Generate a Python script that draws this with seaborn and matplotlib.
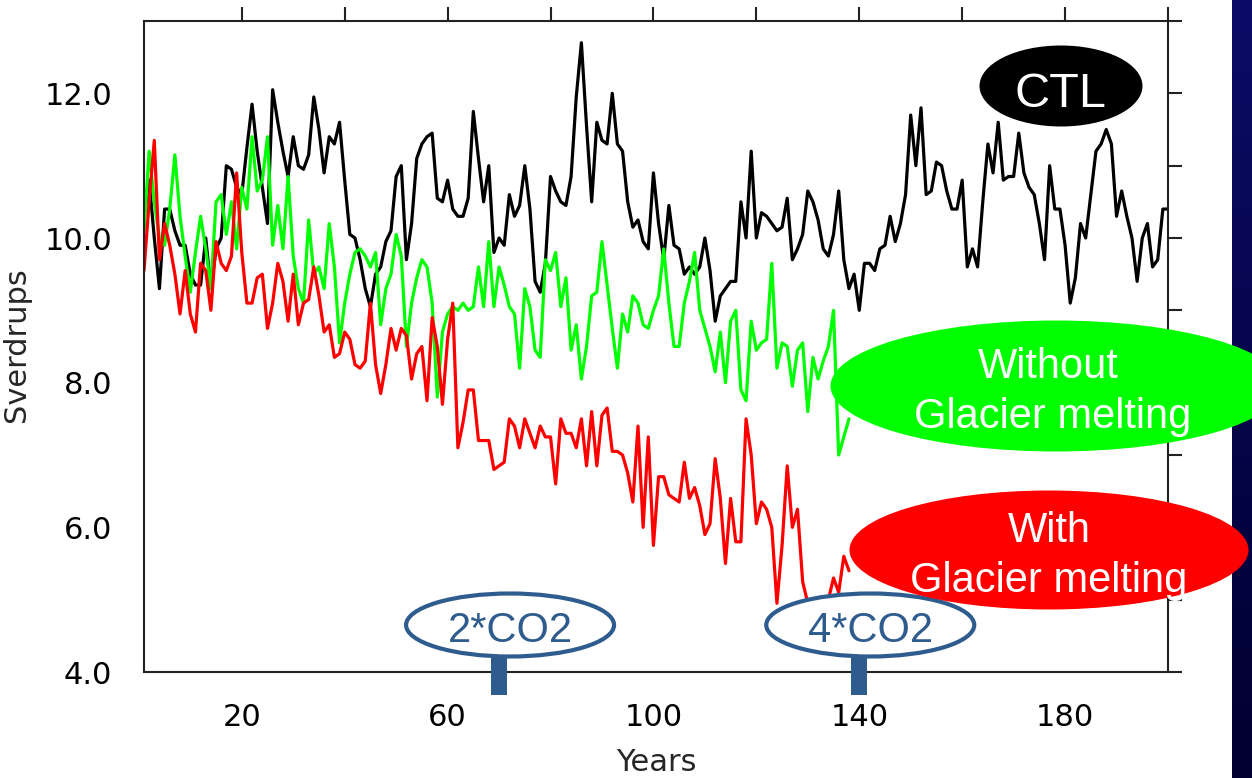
import numpy as np
import pandas as pd
import matplotlib
matplotlib.use("Agg")
import matplotlib.pyplot as plt
import seaborn as sns
from matplotlib.patches import Ellipse, Rectangle
from matplotlib.transforms import blended_transform_factory
from matplotlib.colors import LinearSegmentedColormap

# ---------------- data ----------------
years_ctl = list(range(1, 201))
ctl = [
    10.3, 10.8, 10.0, 9.3, 10.4, 10.4, 10.1, 9.9, 9.9, 9.5,
    9.35, 9.35, 10.0, 9.3, 9.85, 10.0, 11.0, 10.95, 10.7, 10.6,
    11.25, 11.85, 11.2, 10.7, 10.2, 12.05, 11.6, 11.2, 10.85, 11.4,
    11.0, 10.95, 11.15, 11.95, 11.5, 10.9, 11.4, 11.3, 11.6, 10.8,
    10.05, 10.0, 9.7, 9.3, 9.05, 9.5, 9.6, 9.95, 10.1, 10.85,
    11.0, 9.7, 10.2, 11.1, 11.3, 11.4, 11.45, 10.55, 10.5, 10.8,
    10.4, 10.3, 10.3, 10.55, 11.75, 11.1, 10.5, 11.0, 9.8, 10.0,
    9.9, 10.6, 10.3, 10.45, 11.0, 10.4, 9.4, 9.25, 9.65, 10.85,
    10.65, 10.5, 10.45, 10.85, 11.95, 12.7, 11.55, 10.5, 11.6, 11.35,
    11.3, 12.0, 11.3, 11.2, 10.5, 10.15, 10.25, 9.95, 9.85, 10.9,
    10.2, 9.7, 10.45, 9.9, 9.85, 9.5, 9.6, 9.5, 9.6, 10.0,
    9.55, 8.85, 9.2, 9.3, 9.4, 9.4, 10.5, 10.0, 11.2, 10.0,
    10.35, 10.3, 10.2, 10.1, 10.15, 10.55, 9.7, 9.85, 10.05, 10.65,
    10.5, 10.25, 9.85, 9.75, 10.05, 10.65, 9.7, 9.3, 9.5, 9.0,
    9.65, 9.65, 9.55, 9.85, 9.9, 10.3, 9.95, 10.2, 10.6, 11.7,
    11.0, 11.8, 10.6, 10.65, 11.05, 11.0, 10.65, 10.4, 10.4, 10.8,
    9.6, 9.85, 9.6, 10.5, 11.3, 10.9, 11.6, 10.8, 10.85, 10.85,
    11.45, 10.9, 10.7, 10.6, 10.2, 9.7, 11.0, 10.4, 10.4, 9.9,
    9.1, 9.45, 10.2, 10.0, 10.6, 11.2, 11.3, 11.5, 11.3, 10.3,
    10.65, 10.3, 10.0, 9.4, 10.0, 10.2, 9.6, 9.7, 10.4, 10.4,
]

years_exp = list(range(1, 139))
without_melt = [
    10.1, 11.2, 10.5, 10.0, 9.9, 10.4, 11.15, 10.3, 9.75, 9.25,
    9.8, 10.3, 9.85, 9.3, 10.5, 10.6, 10.05, 10.5, 9.85, 10.7,
    10.4, 11.4, 10.65, 10.8, 11.4, 9.9, 10.45, 9.85, 10.85, 9.75,
    9.3, 9.1, 10.25, 9.5, 9.6, 9.3, 10.2, 9.6, 8.55, 9.1,
    9.5, 9.8, 9.85, 9.75, 9.6, 9.8, 8.8, 9.3, 9.5, 10.05,
    9.75, 8.5, 9.1, 9.45, 9.7, 9.6, 9.1, 7.8, 8.7, 8.95,
    9.05, 9.0, 9.1, 9.0, 9.05, 9.6, 9.05, 9.95, 9.05, 9.6,
    9.35, 9.05, 8.95, 8.2, 9.3, 9.05, 8.45, 8.35, 9.7, 9.55,
    9.8, 9.05, 9.45, 8.45, 8.8, 8.05, 8.5, 9.2, 9.25, 9.95,
    9.35, 8.75, 8.2, 8.95, 8.7, 9.2, 9.1, 8.8, 8.75, 9.0,
    9.2, 9.85, 9.1, 8.5, 8.5, 9.1, 9.4, 9.8, 9.0, 8.75,
    8.5, 8.15, 8.7, 8.0, 8.85, 9.0, 7.9, 7.75, 8.85, 8.45,
    8.55, 8.6, 9.65, 8.2, 8.55, 8.5, 7.95, 8.45, 8.55, 7.6,
    8.35, 8.05, 8.3, 8.5, 9.0, 7.0, 7.25, 7.5,
]
with_melt = [
    9.55, 10.5, 11.35, 9.7, 10.2, 9.9, 9.5, 8.95, 9.55, 8.95,
    8.7, 9.65, 9.55, 9.0, 9.95, 9.65, 9.55, 9.75, 10.9, 9.8,
    9.1, 9.1, 9.45, 9.5, 8.75, 9.1, 9.65, 9.4, 8.85, 9.5,
    8.8, 9.1, 9.15, 9.6, 9.2, 8.7, 8.8, 8.35, 8.4, 8.7,
    8.6, 8.25, 8.2, 8.3, 9.1, 8.25, 7.85, 8.25, 8.75, 8.45,
    8.75, 8.65, 8.05, 8.4, 8.5, 7.75, 8.9, 8.5, 7.7, 8.6,
    9.1, 7.1, 7.45, 7.9, 7.9, 7.2, 7.2, 7.2, 6.8, 6.85,
    6.9, 7.5, 7.4, 7.1, 7.5, 7.3, 7.1, 7.4, 7.25, 7.25,
    6.6, 7.5, 7.3, 7.3, 7.1, 7.5, 6.85, 7.6, 6.85, 7.55,
    7.65, 7.05, 7.05, 7.0, 6.75, 6.35, 7.4, 6.0, 7.25, 5.75,
    6.7, 6.7, 6.45, 6.4, 6.35, 6.9, 6.4, 6.55, 6.3, 5.9,
    6.05, 6.95, 6.4, 5.5, 6.4, 5.8, 5.8, 7.5, 7.0, 6.05,
    6.35, 6.25, 6.0, 4.95, 5.75, 6.85, 6.0, 6.25, 5.25, 4.95,
    4.75, 4.7, 4.8, 5.0, 5.3, 5.1, 5.6, 5.4,
]

run_names = ["CTL", "Without Glacier melting", "With Glacier melting"]
run_colors = ["#000000", "#00FF00", "#FF0000"]

x_ticks = list(range(20, 201, 20))
x_ticklabels = ["20", "", "60", "", "100", "", "140", "", "180", ""]
y_ticks = list(range(4, 14))
y_ticklabels = ["4.0", "", "6.0", "", "8.0", "", "10.0", "", "12.0", ""]

co2_years = [70, 140]
co2_labels = ["2*CO2", "4*CO2"]

# ---------------- figure ----------------
sns.set_style("white")
plt.rcParams["font.family"] = ["DejaVu Sans"]

W, H = 1252, 778
fig = plt.figure(figsize=(W / 100, H / 100), dpi=100)
fig.patch.set_facecolor("white")

# dark navy strip at the right edge (slide background)
strip = fig.add_axes([1232 / W, 0, 20 / W, 1], zorder=-1)
grad = np.linspace(0, 1, 256).reshape(-1, 1)
navy = LinearSegmentedColormap.from_list("navy", ["#0B0B66", "#000030"])
strip.imshow(grad, aspect="auto", cmap=navy, extent=[0, 1, 0, 1])
strip.set_axis_off()

ax = fig.add_axes([144 / W, 1 - 672 / H, (1168 - 144) / W, (672 - 21) / H])

df = pd.concat([
    pd.DataFrame({"Year": years_ctl, "Sv": ctl, "Run": run_names[0]}),
    pd.DataFrame({"Year": years_exp, "Sv": without_melt, "Run": run_names[1]}),
    pd.DataFrame({"Year": years_exp, "Sv": with_melt, "Run": run_names[2]}),
], ignore_index=True)

sns.lineplot(data=df, x="Year", y="Sv", hue="Run", hue_order=run_names,
             palette=run_colors, estimator=None, sort=False, legend=False,
             lw=2.3, ax=ax)

ax.set_xlim(1, 200)
ax.set_ylim(4, 13)
ax.set_xticks(x_ticks)
ax.set_xticklabels(x_ticklabels)
ax.set_yticks(y_ticks)
ax.set_yticklabels(y_ticklabels)
ax.set_xlabel("")
ax.set_ylabel("")
for s in ax.spines.values():
    s.set_visible(True)
    s.set_color("#222222")
    s.set_linewidth(1.5)
ax.tick_params(direction="out", length=10, width=1.5, color="#222222",
               top=True, right=True, labelsize=22, labelcolor="black")
ax.tick_params(axis="y", pad=13)
ax.tick_params(axis="x", pad=12)

fig.text(656 / W, 1 - 771 / H, "Years", ha="center", va="baseline", fontsize=22)
fig.text(25 / W, 1 - 345 / H, "Sverdrups", rotation=90, rotation_mode="anchor",
         ha="center", va="baseline", fontsize=22)

# ---------------- CO2 markers (tied to the years) ----------------
blue = "#2F5C8E"
tr = blended_transform_factory(ax.transData, ax.transAxes)
px_year = (1168 - 144) / 199.0
px_ax = 651.0
for yr, lab in zip(co2_years, co2_labels):
    cx = yr + 11 / px_year
    ax.add_patch(Rectangle((yr - 8 / px_year, -23 / px_ax), 16 / px_year, 40 / px_ax,
                           transform=tr, clip_on=False, facecolor=blue,
                           edgecolor="none", zorder=10))
    ax.add_patch(Ellipse((cx, 47 / px_ax), 208 / px_year, 63 / px_ax, transform=tr,
                         clip_on=False, facecolor="white", edgecolor=blue,
                         lw=3, zorder=11))
    ax.text(cx, 30 / px_ax, lab, transform=tr, ha="center", va="baseline",
            fontsize=30, color=blue, family=["Liberation Sans", "DejaVu Sans"],
            zorder=12, clip_on=False)

# ---------------- run label ellipses ----------------
def fx(p):
    return p / W

def fy(p):
    return 1 - p / H

lab_font = ["Liberation Sans", "DejaVu Sans"]
fig.add_artist(Ellipse((fx(1061), fy(86)), 163 / W, 81 / H, facecolor="black",
                       edgecolor="none", transform=fig.transFigure, zorder=20))
fig.text(fx(1060), fy(107), "CTL", color="white", fontsize=35, ha="center",
         va="baseline", family=lab_font, zorder=21)

fig.add_artist(Ellipse((fx(1056), fy(386)), 451 / W, 131 / H, facecolor="#00FF00",
                       edgecolor="none", transform=fig.transFigure, zorder=20))
fig.text(fx(1048), fy(378), "Without", color="white", fontsize=30, ha="center",
         va="baseline", family=lab_font, zorder=21)
fig.text(fx(1053), fy(428), "Glacier melting", color="white", fontsize=30,
         ha="center", va="baseline", family=lab_font, zorder=21)

fig.add_artist(Ellipse((fx(1049), fy(550)), 399 / W, 119 / H, facecolor="#FF0000",
                       edgecolor="none", transform=fig.transFigure, zorder=20))
fig.text(fx(1049), fy(542), "With", color="white", fontsize=30, ha="center",
         va="baseline", family=lab_font, zorder=21)
fig.text(fx(1049), fy(592), "Glacier melting", color="white", fontsize=30,
         ha="center", va="baseline", family=lab_font, zorder=21)

fig.savefig("out.png", dpi=100)
